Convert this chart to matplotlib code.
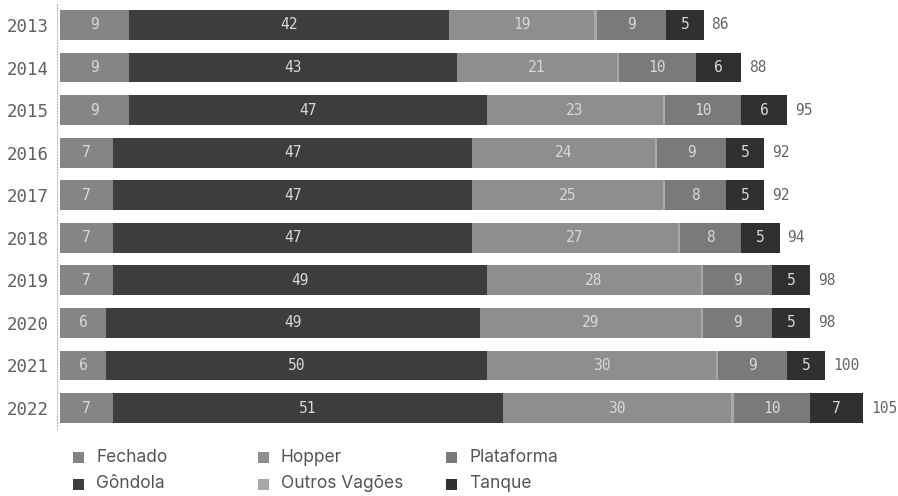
import matplotlib.pyplot as plt
from matplotlib.patches import Rectangle

# frota de vagões por tipo (mil unidades)
anos = ['2013', '2014', '2015', '2016', '2017', '2018', '2019', '2020', '2021', '2022']
fechado = [9, 9, 9, 7, 7, 7, 7, 6, 6, 7]
gondola = [42, 43, 47, 47, 47, 47, 49, 49, 50, 51]
hopper = [19, 21, 23, 24, 25, 27, 28, 29, 30, 30]
outros = [0.4, 0.3, 0.3, 0.3, 0.3, 0.3, 0.3, 0.3, 0.3, 0.3]
plataforma = [9, 10, 10, 9, 8, 8, 9, 9, 9, 10]
tanque = [5, 6, 6, 5, 5, 5, 5, 5, 5, 7]
totais = [86, 88, 95, 92, 92, 94, 98, 98, 100, 105]

series = [
    ('Fechado', fechado, '#858585'),
    ('Gôndola', gondola, '#3d3d3d'),
    ('Hopper', hopper, '#8e8e8e'),
    ('Outros Vagões', outros, '#a8a8a8'),
    ('Plataforma', plataforma, '#7a7a7a'),
    ('Tanque', tanque, '#303030'),
]

W, H = 898, 496
PX = 7.63  # pixels por unidade
fig = plt.figure(figsize=(W / 100, H / 100), dpi=100)
fig.patch.set_facecolor('white')
ax = fig.add_axes([60 / W, (H - 429.3) / H, (W - 60) / W, 425.6 / H])

y = list(range(len(anos)))
left = [0] * len(anos)
for nome, vals, cor in series:
    ax.barh(y, vals, left=left, height=0.7, color=cor, edgecolor='none')
    for i, v in enumerate(vals):
        if v >= 3:
            ax.text(left[i] + v / 2, i, str(v), ha='center', va='center',
                    fontsize=10.5, color='#d8d8d8', family='DejaVu Sans Mono')
    left = [l + v for l, v in zip(left, vals)]

for i, t in enumerate(totais):
    ax.text(left[i] + 1.0, i, str(t), ha='left', va='center',
            fontsize=10.5, color='#666666', family='DejaVu Sans Mono')

ax.set_xlim(0, (W - 60) / PX)
ax.set_ylim(len(anos) - 0.5, -0.5)
ax.set_yticks(y)
ax.set_yticklabels(anos)
ax.tick_params(axis='y', length=0, pad=6, labelsize=12.5,
               labelcolor='#606060', labelfontfamily='DejaVu Sans Mono')
ax.set_xticks([])
for s in ['top', 'right', 'bottom']:
    ax.spines[s].set_visible(False)
ax.spines['left'].set_linestyle(':')
ax.spines['left'].set_color('#bbbbbb')
ax.spines['left'].set_linewidth(0.8)
ax.spines['left'].set_position(('outward', 2))

# legenda em colunas de largura fixa
col_x = [73, 258, 446]
row_y = [457, 484]
for k, (nome, vals, cor) in enumerate(series):
    c, r = k // 2, k % 2
    x0, y0 = col_x[c], row_y[r]
    fig.add_artist(Rectangle((x0 / W, (H - y0 - 6) / H), 11 / W, 11 / H,
                             transform=fig.transFigure, color=cor, lw=0))
    fig.text((x0 + 23) / W, (H - y0) / H, nome, ha='left', va='center',
             fontsize=12.5, color='#555555', family='Inter')

fig.savefig('out.png', dpi=100)
